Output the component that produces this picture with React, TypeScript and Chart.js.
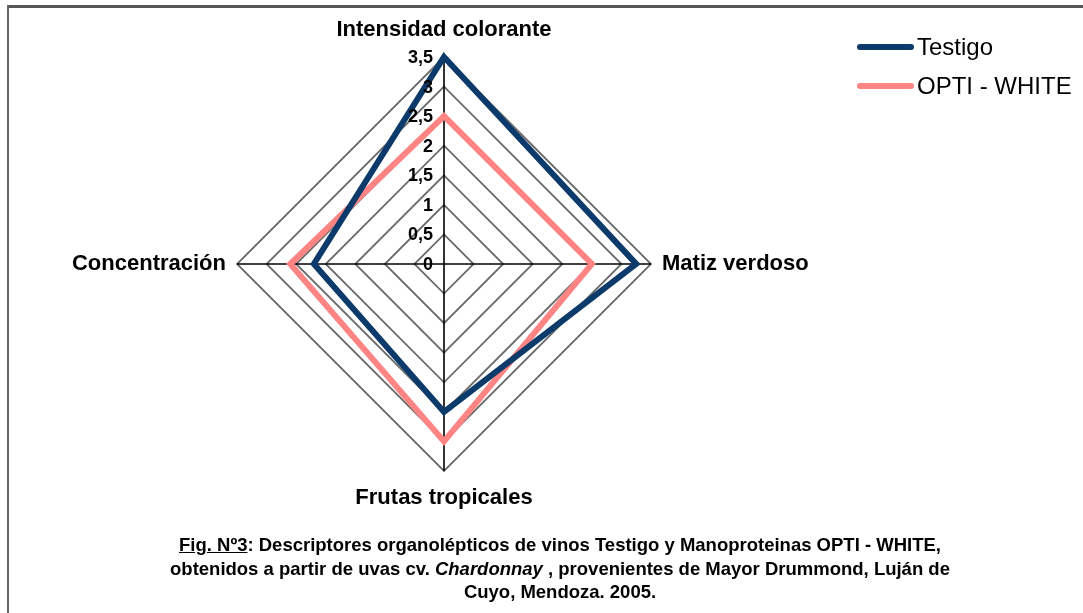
import React, { useEffect, useRef } from "react";
import { Chart, registerables } from "chart.js";

Chart.register(...registerables);

const categories = ["Intensidad colorante", "Matiz verdoso", "Frutas tropicales", "Concentración"];
const testigoValues = [3.5, 3.25, 2.5, 2.2];
const optiValues = [2.5, 2.5, 3.0, 2.6];
const seriesNames = ["Testigo", "OPTI - WHITE"];
const seriesColors = ["#0c3a6b", "#ff8484"];
const tickValues = [0, 0.5, 1, 1.5, 2, 2.5, 3, 3.5];
const tickLabels = ["0", "0,5", "1", "1,5", "2", "2,5", "3", "3,5"];

const FONT = "'Liberation Sans', Arial, sans-serif";

const overlayPlugin = {
  id: "overlay",
  afterDraw(chart: any) {
    const ctx = chart.ctx;
    const scale = chart.scales.r;
    const cx = scale.xCenter;
    const cy = scale.yCenter;
    ctx.save();
    // tick labels
    ctx.fillStyle = "#000";
    ctx.font = `bold 18px ${FONT}`;
    ctx.textAlign = "right";
    ctx.textBaseline = "middle";
    tickValues.forEach((v, i) => {
      const d = scale.getDistanceFromCenterForValue(v);
      ctx.fillText(tickLabels[i], cx - 11, cy - d + 1);
    });
    // point labels
    ctx.font = `bold 22px ${FONT}`;
    const r = scale.drawingArea;
    categories.forEach((label, i) => {
      const vertical = i % 2 === 0;
      const p = scale.getPointPosition(i, r + (vertical ? 16 : 11));
      if (i === 0) {
        ctx.textAlign = "center";
        ctx.textBaseline = "bottom";
      } else if (i === 1) {
        ctx.textAlign = "left";
        ctx.textBaseline = "middle";
      } else if (i === 2) {
        ctx.textAlign = "center";
        ctx.textBaseline = "top";
      } else {
        ctx.textAlign = "right";
        ctx.textBaseline = "middle";
      }
      ctx.fillText(label, p.x, p.y);
    });
    // legend
    ctx.font = `24px ${FONT}`;
    ctx.textAlign = "left";
    ctx.textBaseline = "middle";
    const legendY = [47, 86];
    seriesNames.forEach((name, i) => {
      ctx.strokeStyle = seriesColors[i];
      ctx.lineWidth = 6;
      ctx.lineCap = "round";
      ctx.beginPath();
      ctx.moveTo(860, legendY[i]);
      ctx.lineTo(911, legendY[i]);
      ctx.stroke();
      ctx.fillStyle = "#000";
      ctx.fillText(name, 917, legendY[i] + 1);
    });
    ctx.restore();
  },
};

export default function App() {
  const ref = useRef<HTMLCanvasElement | null>(null);
  useEffect(() => {
    if (!ref.current) return;
    const chart = new Chart(ref.current, {
      type: "radar",
      data: {
        labels: categories,
        datasets: [
          {
            label: seriesNames[0],
            data: testigoValues,
            borderColor: seriesColors[0],
            borderWidth: 6,
            fill: false,
            pointRadius: 0,
            borderJoinStyle: "miter",
          },
          {
            label: seriesNames[1],
            data: optiValues,
            borderColor: seriesColors[1],
            borderWidth: 6,
            fill: false,
            pointRadius: 0,
            borderJoinStyle: "miter",
          },
        ],
      },
      options: {
        responsive: false,
        animation: false,
        layout: { padding: { left: 237, right: 432, top: 57, bottom: 142 } },
        plugins: { legend: { display: false }, tooltip: { enabled: false } },
        scales: {
          r: {
            min: 0,
            max: 3.5,
            ticks: { display: false, stepSize: 0.5 },
            pointLabels: { display: false },
            grid: { color: "#6a6a6a", lineWidth: 1.8 },
            angleLines: { color: "#000", lineWidth: 1.6 },
          },
        },
      },
      plugins: [overlayPlugin],
    } as any);
    return () => chart.destroy();
  }, []);

  const captionStyle: React.CSSProperties = {
    position: "absolute",
    left: 0,
    width: 1120,
    textAlign: "center",
    fontFamily: "'Liberation Sans Narrow', 'Arial Narrow', 'Liberation Sans', sans-serif",
    fontWeight: "bold",
    fontSize: 18.5,
    lineHeight: "20px",
    color: "#000",
    whiteSpace: "nowrap",
  };

  return (
    <div style={{ position: "absolute", left: 0, top: 0, width: 1083, height: 613, background: "#fff", overflow: "hidden" }}>
      <canvas ref={ref} width={1083} height={613} style={{ position: "absolute", left: 0, top: 0 }} />
      <div style={{ position: "absolute", left: 7, top: 5, width: 1076, height: 3, background: "#555" }} />
      <div style={{ position: "absolute", left: 7, top: 5, width: 2, height: 608, background: "#666" }} />
      <div style={{ ...captionStyle, top: 535 }}>
        <span style={{ textDecoration: "underline" }}>Fig. Nº3</span>: Descriptores organolépticos de vinos Testigo y Manoproteinas OPTI - WHITE,
      </div>
      <div style={{ ...captionStyle, top: 559 }}>
        obtenidos a partir de uvas cv. <i>Chardonnay</i> , provenientes de Mayor Drummond, Luján de
      </div>
      <div style={{ ...captionStyle, top: 582 }}>Cuyo, Mendoza. 2005.</div>
    </div>
  );
}
